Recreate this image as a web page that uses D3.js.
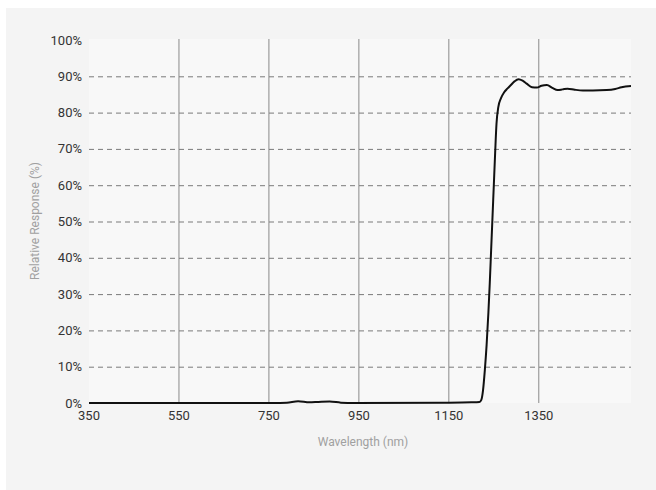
<!DOCTYPE html>
<html>
<head>
<meta charset="utf-8">
<script src="https://cdn.jsdelivr.net/npm/d3@7"></script>
<style>
  body { margin: 0; background: #fff; }
  text { font-family: Roboto, "Liberation Sans", sans-serif; }
</style>
</head>
<body>
<div class="canvas"></div>
<script>
// wavelength (nm) and relative response (%)
const wavelength = [350, 760, 790, 815, 840, 860, 885, 910, 940, 1150, 1200, 1218,
  1222, 1226, 1230, 1234, 1238, 1241, 1244, 1247, 1250, 1253, 1256, 1260, 1266, 1273, 1280,
  1288, 1296, 1305, 1314, 1323, 1335, 1346, 1356, 1368, 1380, 1392, 1403, 1414, 1430, 1448,
  1470, 1501, 1520, 1534, 1555];
const response = [0, 0, 0.1, 0.5, 0.2, 0.3, 0.4, 0.1, 0, 0.1, 0.2, 0.3,
  0.8, 3.5, 9, 16, 25, 33, 42, 51, 60, 69, 77, 81.5, 84, 85.6, 86.6,
  87.6, 88.6, 89.2, 88.8, 88, 87, 86.9, 87.4, 87.6, 86.8, 86.2, 86.4, 86.6, 86.3, 86.1,
  86.1, 86.2, 86.5, 87, 87.3];

const xTicks = [350, 550, 750, 950, 1150, 1350];
const yTicks = [0, 10, 20, 30, 40, 50, 60, 70, 80, 90, 100];

const data = wavelength.map((w, i) => ({w: w, r: response[i]}));

const width = 656, height = 490;
const plotL = 89, plotR = 631, plotT = 40, plotB = 403;

const svg = d3.select('.canvas')
  .append('svg')
  .attr('width', width)
  .attr('height', height);

// card + plot background
svg.append('rect')
  .attr('x', 6).attr('y', 8)
  .attr('width', width - 6).attr('height', height - 8)
  .attr('fill', '#f4f4f4');

svg.append('rect')
  .attr('x', plotL).attr('y', plotT - 1)
  .attr('width', plotR - plotL).attr('height', plotB - plotT + 1)
  .attr('fill', '#f8f8f8');

const x = d3.scaleLinear().domain([350, 1555]).range([plotL, plotR]);
const y = d3.scaleLinear().domain([0, 100]).range([plotB, plotT]);

// vertical grid (solid)
svg.selectAll('.vgrid')
  .data(xTicks.filter(d => d > 350))
  .enter()
  .append('line')
  .attr('x1', d => x(d)).attr('x2', d => x(d))
  .attr('y1', plotT - 1).attr('y2', plotB)
  .attr('stroke', '#8a8a8a')
  .attr('stroke-width', 1);

// horizontal grid (dashed)
svg.selectAll('.hgrid')
  .data(yTicks.filter(d => d > 0 && d < 100))
  .enter()
  .append('line')
  .attr('x1', plotL).attr('x2', plotR)
  .attr('y1', d => y(d) + 0.5).attr('y2', d => y(d) + 0.5)
  .attr('stroke', '#7a7a7a')
  .attr('stroke-width', 1)
  .attr('stroke-dasharray', '5,4');

// y tick labels
svg.selectAll('.ylab')
  .data(yTicks)
  .enter()
  .append('text')
  .attr('x', 82)
  .attr('y', d => y(d))
  .attr('dy', '0.35em')
  .attr('text-anchor', 'end')
  .attr('fill', '#333')
  .style('font-size', '13px')
  .text(d => d + '%');

// x tick labels
svg.selectAll('.xlab')
  .data(xTicks)
  .enter()
  .append('text')
  .attr('x', d => x(d))
  .attr('y', 420)
  .attr('text-anchor', 'middle')
  .attr('fill', '#333')
  .style('font-size', '13px')
  .text(d => d);

// axis titles
svg.append('text')
  .attr('x', 363).attr('y', 446)
  .attr('text-anchor', 'middle')
  .attr('fill', '#a0a0a0')
  .style('font-size', '12px')
  .text('Wavelength (nm)');

svg.append('text')
  .attr('transform', 'translate(39, 221) rotate(-90)')
  .attr('text-anchor', 'middle')
  .attr('fill', '#a0a0a0')
  .style('font-size', '12px')
  .text('Relative Response (%)');

// response curve
const line = d3.line()
  .x(d => x(d.w))
  .y(d => y(d.r))
  .curve(d3.curveMonotoneX);

svg.append('path')
  .datum(data)
  .attr('fill', 'none')
  .attr('stroke', '#111')
  .attr('stroke-width', 2)
  .attr('d', line);
</script>
</body>
</html>
